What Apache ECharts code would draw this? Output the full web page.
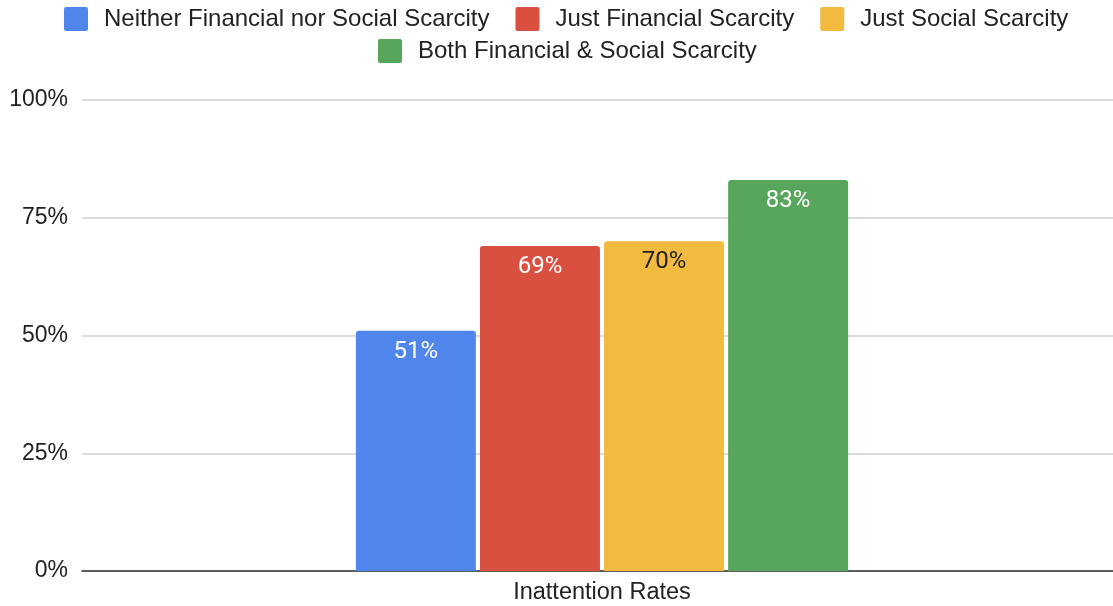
<!DOCTYPE html>
<html>
<head>
<meta charset="utf-8">
<script src="https://cdn.jsdelivr.net/npm/echarts@6/dist/echarts.min.js"></script>
<style>html,body{margin:0;padding:0;background:#fff}#c{width:1113px;height:606px}</style>
</head>
<body>
<div id="c"></div>
<script>
const categories = ["Inattention Rates"];
const seriesNames = ["Neither Financial nor Social Scarcity", "Just Financial Scarcity", "Just Social Scarcity", "Both Financial & Social Scarcity"];
const neitherValues = [51];
const justFinancialValues = [69];
const justSocialValues = [70];
const bothValues = [83];
const yTicks = [0, 25, 50, 75, 100];

const colors = ["#5086EC", "#D95040", "#F2BB40", "#58A65C"];
const labelColors = ["#ffffff", "#ffffff", "#202124", "#ffffff"];
const allValues = [neitherValues, justFinancialValues, justSocialValues, bothValues];

const chart = echarts.init(document.getElementById('c'), null, {renderer: 'canvas'});
const font = "'Liberation Sans', Arial, sans-serif";
const legendText = {fontSize: 24, color: '#222', fontFamily: font, padding: [0, 0, 0, 11]};
const icon = 'path://M2,0 L22,0 Q24,0 24,2 L24,22 Q24,24 22,24 L2,24 Q0,24 0,22 L0,2 Q0,0 2,0 Z';
const yMin = yTicks[0], yMax = yTicks[yTicks.length - 1];
chart.setOption({
  animation: false,
  color: colors,
  legend: [
    {data: seriesNames.slice(0, 3), top: 2, left: 59, itemWidth: 24, itemHeight: 24, itemGap: 26,
     icon, textStyle: legendText},
    {data: seriesNames.slice(3), top: 34, left: 373, itemWidth: 24, itemHeight: 24, itemGap: 26,
     icon, textStyle: legendText}
  ],
  grid: [
    {left: 82, right: 0, top: 100, bottom: 35, containLabel: false},
    {left: 91, right: 0, top: 100, bottom: 35, containLabel: false}
  ],
  xAxis: [
    {gridIndex: 0, type: 'category', data: categories,
     axisLine: {lineStyle: {color: '#333', width: 1.5}},
     axisTick: {show: false}, axisLabel: {show: false}},
    {gridIndex: 1, type: 'category', data: categories,
     axisLine: {show: false}, axisTick: {show: false},
     axisLabel: {fontSize: 23.5, color: '#222', fontFamily: font, margin: 10}}
  ],
  yAxis: [
    {gridIndex: 0, type: 'value', min: yMin, max: yMax, interval: 25,
     axisLine: {show: false}, axisTick: {show: false},
     splitLine: {lineStyle: {color: '#cfcfcf', width: 1.5}},
     axisLabel: {fontSize: 23, color: '#222', fontFamily: font, margin: 14, formatter: v => v + '%'}},
    {gridIndex: 1, type: 'value', min: yMin, max: yMax, interval: 25,
     axisLine: {show: false}, axisTick: {show: false},
     splitLine: {show: false}, axisLabel: {show: false}}
  ],
  series: seriesNames.map((name, i) => ({
    name, type: 'bar', data: allValues[i], xAxisIndex: 1, yAxisIndex: 1,
    barWidth: 120, barGap: '3.4%',
    itemStyle: {color: colors[i], borderRadius: [3, 3, 0, 0]},
    label: {show: true, position: 'insideTop', distance: 9, formatter: '{c}%',
      color: labelColors[i], fontSize: 24, fontFamily: 'Roboto, sans-serif'}
  }))
});
</script>
</body>
</html>
